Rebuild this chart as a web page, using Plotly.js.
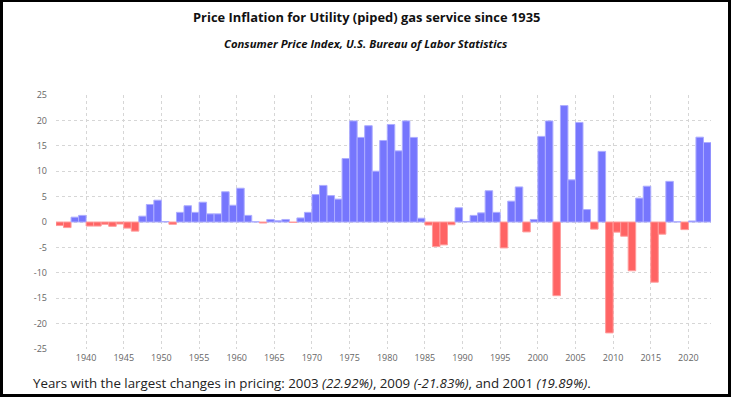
<!DOCTYPE html>
<html>
<head>
<meta charset="utf-8">
<script src="https://cdn.plot.ly/plotly-3.0.1.min.js"></script>
<style>
  html, body { margin: 0; padding: 0; background: #fff; }
  #wrap { position: relative; width: 731px; height: 397px; }
  #chart { width: 731px; height: 397px; }
  #frame { position: absolute; left: 0; top: 0; width: 731px; height: 397px; box-sizing: border-box; border: 3px solid #000; border-top-width: 2px; pointer-events: none; }
</style>
</head>
<body>
<div id="wrap"><div id="chart"></div><div id="frame"></div></div>
<script>
const years = [];
for (let y = 1936; y <= 2022; y++) years.push(y);

const changes = [
  -0.7, -1.1, 0.95, 1.3, -0.8, -0.8, -0.45, -0.85, -0.4, -1.2,   // 1936-1945
  -1.8, 1.15, 3.45, 4.3, 0.1, -0.45, 1.9, 3.2, 1.9, 3.9,         // 1946-1955
  1.6, 1.6, 5.95, 3.3, 6.65, 1.3, 0.05, -0.2, 0.5, 0.25,         // 1956-1965
  0.5, -0.1, 0.8, 1.9, 5.4, 7.2, 5.2, 4.5, 12.5, 19.9,           // 1966-1975
  16.65, 18.95, 10.0, 16.05, 19.2, 14.0, 19.9, 16.65, 0.75, -0.6,// 1976-1985
  -4.85, -4.5, -0.55, 2.8, 0.1, 1.3, 1.8, 6.15, 1.9, -5.1,       // 1986-1995
  4.1, 6.9, -1.95, 0.5, 16.85, 19.89, -14.5, 22.92, 8.3, 19.6,   // 1996-2005
  2.45, -1.4, 13.9, -21.83, -2.0, -2.8, -9.6, 4.7, 7.05, -11.85, // 2006-2015
  -2.4, 8.0, 0.05, -1.5, 0.2, 16.7, 15.65                        // 2016-2022
];

const xTickVals = [1940, 1945, 1950, 1955, 1960, 1965, 1970, 1975, 1980, 1985, 1990, 1995, 2000, 2005, 2010, 2015, 2020];
const yTickVals = [-25, -20, -15, -10, -5, 0, 5, 10, 15, 20, 25];

const titleText = 'Price Inflation for Utility (piped) gas service since 1935';
const subtitleText = 'Consumer Price Index, U.S. Bureau of Labor Statistics';
const footerText = 'Years with the largest changes in pricing: 2003 <i>(22.92%)</i>, 2009 <i>(-21.83%)</i>, and 2001 <i>(19.89%)</i>.';

const fillColors = changes.map(v => v >= 0 ? '#7676fd' : '#ff6464');
const lineColors = changes.map(v => v >= 0 ? '#adadff' : '#ff9c9c');

const trace = {
  type: 'bar',
  x: years,
  y: changes,
  width: 1,
  offset: 0,
  marker: { color: fillColors, line: { color: lineColors, width: 1 } },
  hoverinfo: 'x+y'
};

const tickFont = { family: 'Open Sans, sans-serif', size: 9, color: '#666' };

const layout = {
  width: 731, height: 397,
  margin: { l: 56, r: 20, t: 95, b: 48 },
  paper_bgcolor: '#fff', plot_bgcolor: '#fff',
  showlegend: false,
  bargap: 0,
  xaxis: {
    range: [1936, 2023],
    tickvals: xTickVals,
    ticktext: xTickVals.map(String),
    showgrid: true, gridcolor: '#d6d6d6', griddash: 'dot', gridwidth: 1,
    zeroline: false, showline: false, ticks: '',
    tickfont: tickFont, ticklabelstandoff: 2
  },
  yaxis: {
    range: [-25, 25],
    tickvals: yTickVals,
    ticktext: yTickVals.map(String),
    showgrid: true, gridcolor: '#d6d6d6', griddash: 'dot', gridwidth: 1,
    zeroline: false, showline: false, ticks: '',
    tickfont: tickFont, ticklabelstandoff: 8
  },
  annotations: [
    { text: '<b>' + titleText + '</b>', xref: 'paper', yref: 'paper', x: 0.4737, y: 1.3075,
      xanchor: 'center', yanchor: 'middle', showarrow: false,
      font: { family: 'Open Sans, sans-serif', size: 12.9, color: '#111' } },
    { text: '<b><i>' + subtitleText + '</i></b>', xref: 'paper', yref: 'paper', x: 0.4737, y: 1.2011,
      xanchor: 'center', yanchor: 'middle', showarrow: false,
      font: { family: 'Open Sans, sans-serif', size: 11.3, color: '#111' } },
    { text: footerText, xref: 'paper', yref: 'paper', x: -0.0377, y: -0.132,
      xanchor: 'left', yanchor: 'middle', showarrow: false,
      font: { family: 'Open Sans, sans-serif', size: 13.3, color: '#222' } }
  ]
};

Plotly.newPlot('chart', [trace], layout, { displayModeBar: false, staticPlot: true });
</script>
</body>
</html>
